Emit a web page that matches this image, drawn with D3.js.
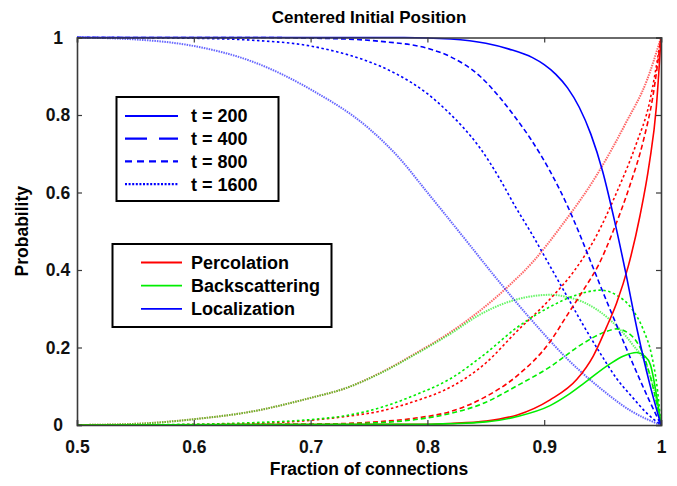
<!DOCTYPE html>
<html>
<head>
<meta charset="utf-8">
<script src="https://cdn.jsdelivr.net/npm/d3@7"></script>
<style>
  body { margin: 0; background: #fff; }
  text { font-family: "Liberation Sans", Arial, sans-serif; font-weight: bold; }
</style>
</head>
<body>
<svg id="chart" width="677" height="486"></svg>
<script>
// [fraction of connections, probability]
var perc200 = [[0.5,0],[0.8,0.002],[0.82,0.004],[0.85,0.01],[0.877,0.026],[0.905,0.065],[0.928,0.118],[0.942,0.178],[0.953,0.25],[0.962,0.315],[0.972,0.41],[0.982,0.54],[0.99,0.675],[0.996,0.82],[1,1]];
var perc400 = [[0.5,0],[0.7,0.002],[0.75,0.007],[0.79,0.018],[0.82,0.035],[0.848,0.07],[0.876,0.125],[0.905,0.215],[0.92,0.285],[0.935,0.355],[0.946,0.41],[0.959,0.5],[0.973,0.615],[0.985,0.735],[0.993,0.847],[1,1]];
var perc800 = [[0.5,0],[0.6,0.001],[0.65,0.004],[0.7,0.012],[0.73,0.022],[0.76,0.036],[0.79,0.062],[0.82,0.098],[0.85,0.16],[0.876,0.24],[0.905,0.325],[0.925,0.395],[0.945,0.49],[0.962,0.6],[0.979,0.727],[0.99,0.83],[1,1]];
var perc1600 = [[0.5,0],[0.55,0.003],[0.6,0.015],[0.65,0.035],[0.7,0.07],[0.73,0.095],[0.76,0.135],[0.79,0.185],[0.82,0.24],[0.845,0.295],[0.87,0.36],[0.89,0.42],[0.915,0.515],[0.945,0.645],[0.97,0.78],[0.988,0.89],[1,1]];

var back200 = [[0.5,0],[0.8,0.002],[0.85,0.008],[0.877,0.022],[0.905,0.05],[0.92,0.077],[0.935,0.11],[0.956,0.157],[0.968,0.178],[0.979,0.187],[0.986,0.178],[0.991,0.155],[0.996,0.08],[1,0]];
var back400 = [[0.5,0],[0.7,0.002],[0.75,0.005],[0.79,0.014],[0.82,0.03],[0.848,0.056],[0.876,0.1],[0.905,0.15],[0.933,0.21],[0.952,0.24],[0.962,0.248],[0.973,0.235],[0.985,0.18],[0.993,0.1],[1,0]];
var back800 = [[0.5,0],[0.6,0.002],[0.65,0.006],[0.7,0.014],[0.73,0.024],[0.76,0.045],[0.79,0.078],[0.82,0.12],[0.85,0.185],[0.876,0.25],[0.905,0.305],[0.93,0.338],[0.948,0.348],[0.962,0.335],[0.975,0.3],[0.985,0.245],[0.992,0.18],[0.997,0.09],[1,0]];
var back1600 = [[0.5,0],[0.55,0.003],[0.6,0.015],[0.65,0.035],[0.7,0.07],[0.73,0.095],[0.76,0.134],[0.79,0.183],[0.82,0.236],[0.845,0.285],[0.865,0.313],[0.885,0.33],[0.905,0.336],[0.92,0.33],[0.935,0.315],[0.955,0.275],[0.975,0.21],[0.988,0.15],[0.995,0.08],[1,0]];

var loc200 = [[0.5,1],[0.78,1],[0.82,0.996],[0.85,0.985],[0.87,0.97],[0.89,0.948],[0.9,0.93],[0.91,0.905],[0.92,0.87],[0.93,0.82],[0.94,0.75],[0.95,0.655],[0.96,0.53],[0.97,0.39],[0.98,0.24],[0.99,0.11],[1,0]];
var loc400 = [[0.5,1],[0.65,1],[0.72,0.997],[0.76,0.99],[0.8,0.972],[0.82,0.95],[0.845,0.9],[0.862,0.845],[0.875,0.795],[0.888,0.74],[0.905,0.655],[0.92,0.565],[0.93,0.495],[0.942,0.405],[0.95,0.345],[0.96,0.272],[0.97,0.2],[0.98,0.13],[0.99,0.063],[1,0]];
var loc800 = [[0.5,1],[0.6,0.998],[0.65,0.993],[0.7,0.978],[0.72,0.965],[0.745,0.943],[0.774,0.905],[0.8,0.855],[0.817,0.81],[0.83,0.77],[0.845,0.715],[0.862,0.635],[0.875,0.565],[0.89,0.49],[0.905,0.41],[0.919,0.335],[0.933,0.26],[0.948,0.185],[0.962,0.12],[0.976,0.07],[0.988,0.03],[1,0]];
var loc1600 = [[0.5,1],[0.55,0.995],[0.6,0.978],[0.65,0.938],[0.7,0.866],[0.75,0.765],[0.775,0.692],[0.8,0.6],[0.83,0.488],[0.86,0.375],[0.89,0.268],[0.92,0.17],[0.95,0.09],[0.975,0.035],[1,0]];

var times = ["t = 200", "t = 400", "t = 800", "t = 1600"];
var outcomes = ["Percolation", "Backscattering", "Localization"];
var outcomeColors = ["#ff0000", "#00ee00", "#0000ff"];
var dashes = [null, "5,3", "2.5,2.5", "1.5,1"];
var legendDashes = [null, "22,12", "7,5", "2,1.6"];
var xTicks = [0.5, 0.6, 0.7, 0.8, 0.9, 1];
var yTicks = [0, 0.2, 0.4, 0.6, 0.8, 1];

var curves = [perc200, perc400, perc800, perc1600,
              back200, back400, back800, back1600,
              loc200, loc400, loc800, loc1600];

var margin = {left: 77, right: 16, top: 37.5, bottom: 61};
var svg = d3.select("#chart");
var W = +svg.attr("width"), H = +svg.attr("height");

var x = d3.scaleLinear().domain([0.5, 1]).range([margin.left, W - margin.right]);
var y = d3.scaleLinear().domain([0, 1]).range([H - margin.bottom, margin.top]);

var line = d3.line()
    .x(function(d){ return x(d[0]); })
    .y(function(d){ return y(d[1]); })
    .curve(d3.curveMonotoneX);

svg.append("defs").append("clipPath").attr("id", "clip")
  .append("rect")
    .attr("x", x(0.5)).attr("y", y(1) - 2)
    .attr("width", x(1) - x(0.5)).attr("height", y(0) - y(1) + 2);

var plot = svg.append("g").attr("clip-path", "url(#clip)");

// draw longest times first so the solid lines sit on top
for (var k = 3; k >= 0; k--) {
    for (var o = 0; o < 3; o++) {
        plot.append("path")
            .datum(curves[o * 4 + k])
            .attr("d", line)
            .attr("fill", "none")
            .attr("stroke", outcomeColors[o])
            .attr("stroke-width", k === 3 ? 2 : 1.6)
            .attr("stroke-opacity", k === 3 ? 0.6 : 1)
            .attr("stroke-dasharray", dashes[k]);
    }
}

// axes, ticks inward on all four sides
var axisColor = "#3a3a3a";
var xAxis = d3.axisBottom(x).tickValues(xTicks).tickSize(-5).tickPadding(12).tickFormat(d3.format("~g"));
var yAxis = d3.axisLeft(y).tickValues(yTicks).tickSize(-5).tickPadding(19).tickFormat(d3.format("~g"));

var gx = svg.append("g").attr("transform", "translate(0," + y(0) + ")").call(xAxis);
var gy = svg.append("g").attr("transform", "translate(" + x(0.5) + ",0)").call(yAxis);
var gxt = svg.append("g").attr("transform", "translate(0," + y(1) + ")")
    .call(d3.axisTop(x).tickValues(xTicks).tickSize(-5).tickFormat(""));
var gyr = svg.append("g").attr("transform", "translate(" + x(1) + ",0)")
    .call(d3.axisRight(y).tickValues(yTicks).tickSize(-5).tickFormat(""));

[gx, gy, gxt, gyr].forEach(function(g){
    g.select(".domain").attr("stroke", axisColor).attr("stroke-width", 1.6);
    g.selectAll(".tick line").attr("stroke", axisColor).attr("stroke-width", 1.2);
    g.selectAll(".tick text").attr("fill", "#111").style("font-size", "17.5px");
});
gx.selectAll(".tick text").attr("dy", "0.9em");
gy.selectAll(".tick text").attr("text-anchor", "middle");

svg.append("text")
    .attr("x", (x(0.5) + x(1)) / 2).attr("y", 23)
    .attr("text-anchor", "middle")
    .style("font-size", "17px")
    .text("Centered Initial Position");

svg.append("text")
    .attr("x", (x(0.5) + x(1)) / 2).attr("y", 475)
    .attr("text-anchor", "middle")
    .style("font-size", "17.5px")
    .text("Fraction of connections");

svg.append("text")
    .attr("transform", "translate(28," + (y(0) + y(1)) / 2 + ") rotate(-90)")
    .attr("text-anchor", "middle")
    .style("font-size", "17.5px")
    .text("Probability");

// legend: line styles (time)
var lg1 = svg.append("g");
lg1.append("rect").attr("x", 116.5).attr("y", 97).attr("width", 162).attr("height", 104)
    .attr("fill", "#fff").attr("stroke", "#000").attr("stroke-width", 2);
times.forEach(function(t, i){
    var yy = 116 + i * 22.7;
    lg1.append("line").attr("x1", 125).attr("x2", 178).attr("y1", yy).attr("y2", yy)
        .attr("stroke", "#0000ff").attr("stroke-width", 2.2)
        .attr("stroke-dasharray", legendDashes[i]);
    lg1.append("text").attr("x", 191).attr("y", yy).attr("dy", "0.36em")
        .style("font-size", "18px").text(t);
});

// legend: colours (outcome)
var lg2 = svg.append("g");
lg2.append("rect").attr("x", 112.5).attr("y", 244).attr("width", 219).attr("height", 83)
    .attr("fill", "#fff").attr("stroke", "#000").attr("stroke-width", 2);
outcomes.forEach(function(name, i){
    var yy = 262.5 + i * 23.2;
    lg2.append("line").attr("x1", 141).attr("x2", 182).attr("y1", yy).attr("y2", yy)
        .attr("stroke", outcomeColors[i]).attr("stroke-width", 1.8);
    lg2.append("text").attr("x", 191).attr("y", yy).attr("dy", "0.36em")
        .style("font-size", "18px").text(name);
});
</script>
</body>
</html>
